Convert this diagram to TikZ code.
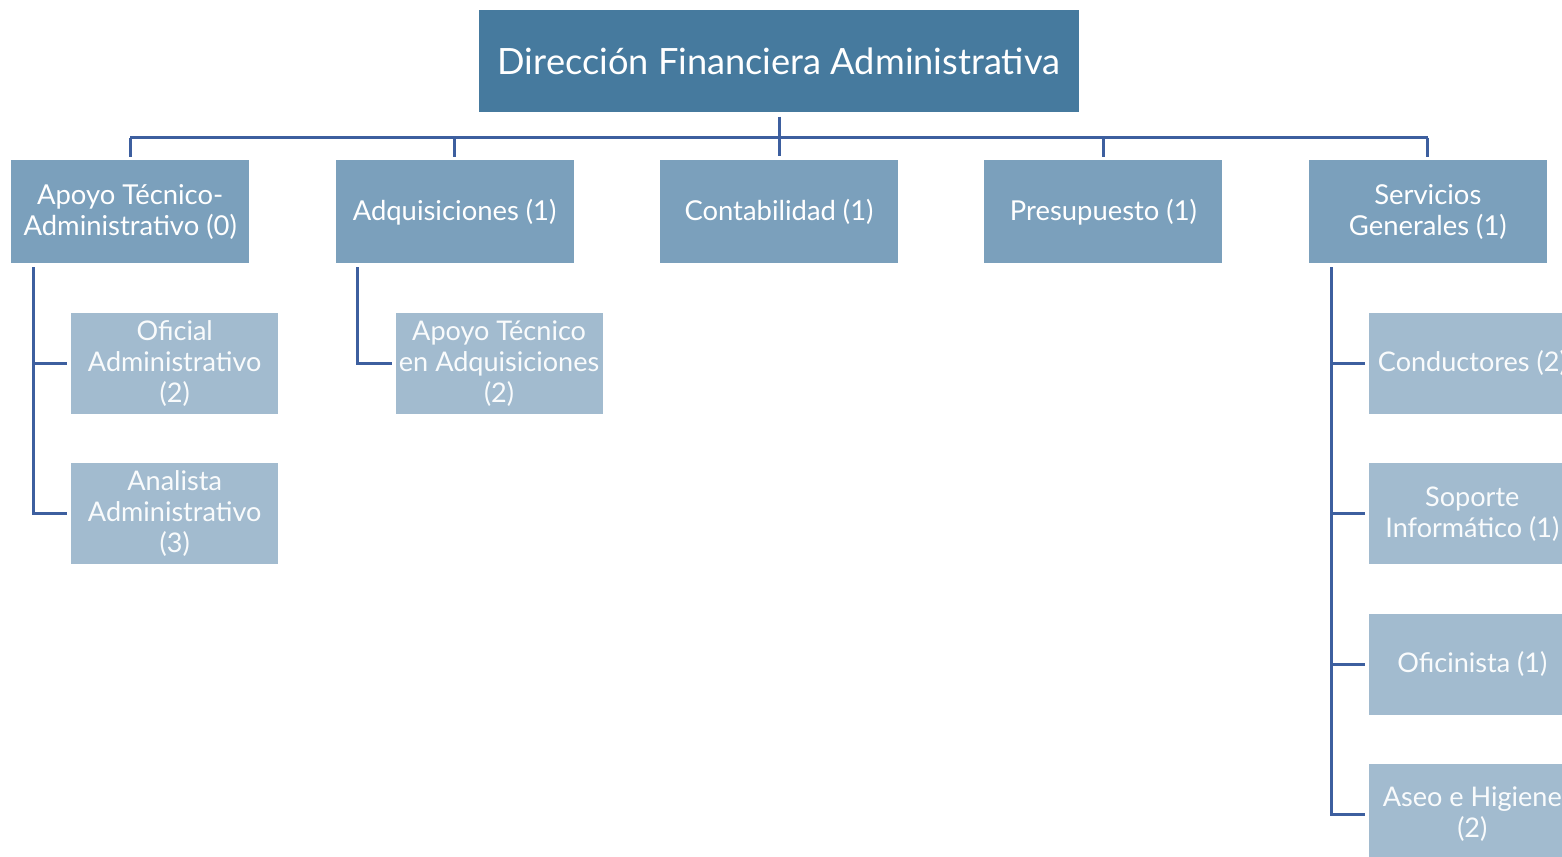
\documentclass[tikz,border=0pt]{standalone}
\usepackage{fontspec}
\setmainfont{Lato}
\usepackage{xcolor}
\usepackage{tikz}
\usetikzlibrary{positioning}

\definecolor{topblue}{HTML}{467A9E}
\definecolor{midblue}{HTML}{7BA0BC}
\definecolor{lowblue}{HTML}{A2BBCF}
\definecolor{linkblue}{HTML}{3D5F9F}

\begin{document}
\begin{tikzpicture}[
        node distance=0.47cm and 0.85cm,
        topbox/.style={rectangle, fill=topblue, text=white, minimum width=6cm, minimum height=1.02cm, inner sep=0pt, align=center, font=\fontsize{10.3}{12}\selectfont},
        unit/.style={rectangle, fill=midblue, text=white, minimum width=2.38cm, minimum height=1.03cm, inner sep=0pt, align=center, font=\fontsize{7.8}{8.8}\selectfont},
        subunit/.style={rectangle, fill=lowblue, text=white!94!lowblue, minimum width=2.07cm, minimum height=1.01cm, inner sep=0pt, align=center, font=\fontsize{7.7}{8.8}\selectfont},
        conn/.style={draw=linkblue, line width=0.85pt}
    ]
        \clip (0,0) rectangle (15.62,-8.56);

        % Define nodes
        \node (top) [topbox] at (7.79,-0.61) {Dirección Financiera Administrativa};
        \node (conta) [unit, below=of top] {Contabilidad (1)};
        \node (adq) [unit, left=of conta] {Adquisiciones (1)};
        \node (apoyo) [unit, left=of adq] {Apoyo Técnico-\\Administrativo (0)};
        \node (presu) [unit, right=of conta] {Presupuesto (1)};
        \node (serv) [unit, right=of presu] {Servicios\\Generales (1)};

        \node (oficial) [subunit, below right=0.48cm and 0.6cm of apoyo.south west] {Oficial\\Administrativo\\(2)};
        \node (analista) [subunit, below=0.48cm of oficial] {Analista\\Administrativo\\(3)};
        \node (tecadq) [subunit, below right=0.48cm and 0.6cm of adq.south west] {Apoyo Técnico\\en Adquisiciones\\(2)};
        \node (conduc) [subunit, below right=0.48cm and 0.6cm of serv.south west] {Conductores (2)};
        \node (soporte) [subunit, below=0.48cm of conduc] {Soporte\\Informático (1)};
        \node (oficin) [subunit, below=0.48cm of soporte] {Oficinista (1)};
        \node (aseo) [subunit, below=0.48cm of oficin] {Aseo e Higiene\\(2)};

        % Draw connectors
        \draw [conn] ([yshift=-0.04cm]top.south) -- ([yshift=0.04cm]conta.north);
        \draw [conn] ([yshift=0.22cm]apoyo.north) -- ([yshift=0.22cm]serv.north);
        \foreach \u in {apoyo, adq, presu, serv}
            \draw [conn] ([yshift=0.22cm]\u.north) -- ([yshift=0.03cm]\u.north);

        \draw [conn] ([xshift=0.23cm, yshift=-0.03cm]apoyo.south west) |- ([xshift=-0.03cm]oficial.west);
        \draw [conn] ([xshift=0.23cm, yshift=-0.03cm]apoyo.south west) |- ([xshift=-0.03cm]analista.west);
        \draw [conn] ([xshift=0.23cm, yshift=-0.03cm]adq.south west) |- ([xshift=-0.03cm]tecadq.west);
        \foreach \s in {conduc, soporte, oficin, aseo}
            \draw [conn] ([xshift=0.23cm, yshift=-0.03cm]serv.south west) |- ([xshift=-0.03cm]\s.west);
    \end{tikzpicture}
\end{document}
